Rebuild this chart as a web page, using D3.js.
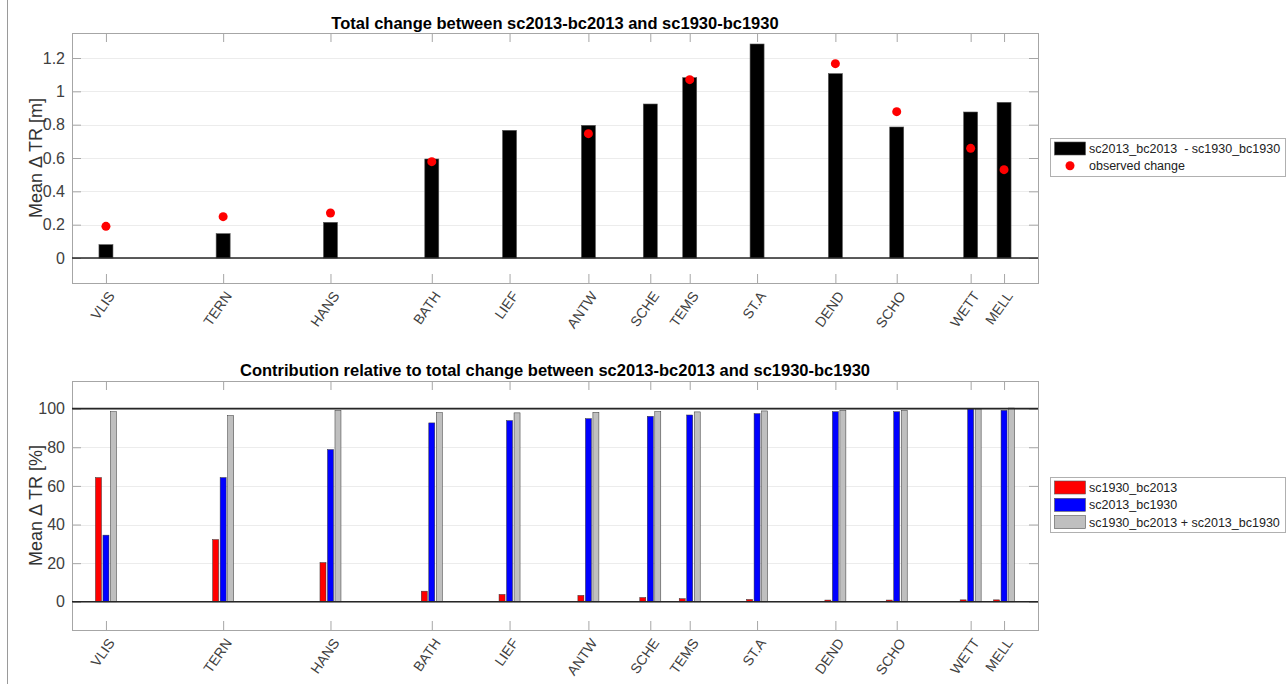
<!DOCTYPE html>
<html>
<head>
<meta charset="utf-8">
<title>Total change</title>
<style>
  body { margin: 0; background: #fff; }
  text { font-family: "Liberation Sans", Arial, sans-serif; }
</style>
</head>
<body>
<div id="plot"></div>
<script src="https://cdn.jsdelivr.net/npm/d3@7"></script>
<script>
let stations = ['VLIS', 'TERN', 'HANS', 'BATH', 'LIEF', 'ANTW', 'SCHE', 'TEMS', 'ST.A', 'DEND', 'SCHO', 'WETT', 'MELL'];
let stationKm = [0, 21.4, 41.0, 59.5, 73.7, 88.1, 99.4, 106.6, 118.9, 133.2, 144.4, 157.9, 164.0];

// top panel
let totalChange = [0.08, 0.146, 0.214, 0.594, 0.766, 0.796, 0.924, 1.082, 1.284, 1.106, 0.786, 0.876, 0.934];
let observed = [0.19, 0.248, 0.27, 0.578, null, 0.746, null, 1.07, null, 1.166, 0.878, 0.658, 0.53];
let topTicks = [0, 0.2, 0.4, 0.6, 0.8, 1, 1.2];

// bottom panel (%)
let sc1930bc2013 = [64.3, 32.2, 20.3, 5.5, 3.8, 3.3, 2.2, 1.6, 1.2, 0.9, 0.9, 1.0, 1.0];
let sc2013bc1930 = [34.5, 64.3, 78.8, 92.6, 93.8, 94.8, 96.0, 96.7, 97.4, 98.4, 98.4, 99.8, 99.1];
let sumBoth = [98.4, 96.4, 99.1, 97.9, 97.8, 98.1, 98.4, 98.3, 98.8, 99.1, 99.1, 99.8, 100.3];
let bottomTicks = [0, 20, 40, 60, 80, 100];

let svgWidth = 1288, svgHeight = 684;
let left = 72, right = 1038;

let svg = d3.select('#plot').append('svg')
  .attr('width', svgWidth).attr('height', svgHeight);

// thin frame line at the far left of the figure
svg.append('line').attr('x1', 7.5).attr('x2', 7.5).attr('y1', 0).attr('y2', svgHeight)
  .attr('stroke', '#9a9a9a').attr('stroke-width', 1);

let x = d3.scaleLinear().domain([-6.2, 170.2]).range([left, right]);

function panel(top, bottom, domain, ticks, tickFmt, title, ylabel, titleY) {
  let y = d3.scaleLinear().domain(domain).range([bottom, top]);
  let g = svg.append('g');

  // grid
  g.selectAll('.grid').data(ticks).enter().append('line')
    .attr('x1', left).attr('x2', right)
    .attr('y1', d => Math.round(y(d)) + 0.5).attr('y2', d => Math.round(y(d)) + 0.5)
    .attr('stroke', '#ececec').attr('stroke-width', 1);

  // y axes (left labelled, right ticks only)
  let yl = g.append('g').attr('transform', 'translate(' + left + ',0)')
    .call(d3.axisLeft(y).tickValues(ticks).tickFormat(tickFmt).tickSizeInner(-9).tickSizeOuter(0).tickPadding(7));
  let yr = g.append('g').attr('transform', 'translate(' + right + ',0)')
    .call(d3.axisRight(y).tickValues(ticks).tickFormat('').tickSizeInner(-9).tickSizeOuter(0));
  // x axes (bottom labelled, top ticks only)
  let xb = g.append('g').attr('transform', 'translate(0,' + bottom + ')')
    .call(d3.axisBottom(x).tickValues(stationKm).tickFormat((d, i) => stations[i]).tickSizeInner(-9).tickSizeOuter(0));
  let xt = g.append('g').attr('transform', 'translate(0,' + top + ')')
    .call(d3.axisTop(x).tickValues(stationKm).tickFormat('').tickSizeInner(-9).tickSizeOuter(0));

  [yl, yr, xb, xt].forEach(a => {
    a.select('.domain').remove();
    a.selectAll('.tick line').attr('stroke', '#a6a6a6');
    a.selectAll('text').attr('fill', '#404040').style('font-size', '16px');
  });
  xb.selectAll('text')
    .style('font-size', '14px')
    .attr('text-anchor', 'end')
    .attr('transform', 'translate(5,10) rotate(-55)')
    .attr('dy', '0.35em').attr('y', 0).attr('x', 0);

  // box
  g.append('rect').attr('x', left + 0.5).attr('y', top + 0.5)
    .attr('width', right - left).attr('height', bottom - top)
    .attr('fill', 'none').attr('stroke', '#a6a6a6');

  g.append('text').attr('x', (left + right) / 2).attr('y', titleY)
    .attr('text-anchor', 'middle').style('font-size', '16.5px').style('font-weight', 'bold')
    .attr('fill', '#000').text(title);

  g.append('text')
    .attr('transform', 'translate(42,' + (top + bottom) / 2 + ') rotate(-90)')
    .attr('text-anchor', 'middle').style('font-size', '18px').attr('fill', '#333')
    .text(ylabel);

  return {g: g, y: y};
}

// ---- top panel
let p1 = panel(33, 283, [-0.15, 1.35], topTicks, d => d3.format('~g')(d),
  'Total change between sc2013-bc2013 and sc1930-bc1930', 'Mean \u0394 TR [m]', 29);
let bw = 14;
p1.g.selectAll('.bar').data(totalChange).enter().append('rect')
  .attr('x', (d, i) => x(stationKm[i]) - bw / 2)
  .attr('y', d => p1.y(d))
  .attr('width', bw)
  .attr('height', d => p1.y(0) - p1.y(d))
  .attr('fill', '#000').attr('stroke', '#555').attr('stroke-width', 0.6);
p1.g.append('line').attr('x1', left).attr('x2', right)
  .attr('y1', p1.y(0)).attr('y2', p1.y(0)).attr('stroke', '#262626').attr('stroke-width', 1.6);
p1.g.selectAll('.dot').data(observed.map((v, i) => [stationKm[i], v]).filter(d => d[1] != null))
  .enter().append('circle')
  .attr('cx', d => x(d[0])).attr('cy', d => p1.y(d[1])).attr('r', 4.5).attr('fill', '#ff0000');

// ---- bottom panel
let p2 = panel(381, 630, [-14.6, 114.3], bottomTicks, d => d,
  'Contribution relative to total change between sc2013-bc2013 and sc1930-bc1930', 'Mean \u0394 TR [%]', 376);
let series = [
  {vals: sc1930bc2013, color: '#ff0000', off: -7.5},
  {vals: sc2013bc1930, color: '#0000ff', off: 0},
  {vals: sumBoth, color: '#bfbfbf', off: 7.5}
];
let gw = 6;
series.forEach(s => {
  p2.g.selectAll(null).data(s.vals).enter().append('rect')
    .attr('x', (d, i) => x(stationKm[i]) + s.off - gw / 2)
    .attr('y', d => p2.y(d))
    .attr('width', gw)
    .attr('height', d => p2.y(0) - p2.y(d))
    .attr('fill', s.color).attr('stroke', '#333').attr('stroke-width', 0.5);
});
[0, 100].forEach(v => {
  p2.g.append('line').attr('x1', left).attr('x2', right)
    .attr('y1', p2.y(v)).attr('y2', p2.y(v)).attr('stroke', '#262626').attr('stroke-width', 1.6);
});

// ---- legends
function legend(x0, y0, h, entries) {
  let lg = svg.append('g');
  lg.append('rect').attr('x', x0 + 0.5).attr('y', y0 + 0.5).attr('width', 235).attr('height', h)
    .attr('fill', '#fff').attr('stroke', '#b0b0b0');
  entries.forEach((e, i) => {
    let cy = y0 + 10 + i * 17.3;
    if (e.type === 'rect') {
      lg.append('rect').attr('x', x0 + 4.5).attr('y', cy - 6).attr('width', 31).attr('height', 13)
        .attr('fill', e.color).attr('stroke', '#555').attr('stroke-width', 0.6);
    } else {
      lg.append('circle').attr('cx', x0 + 20).attr('cy', cy + 0.5).attr('r', 4.5).attr('fill', e.color);
    }
    lg.append('text').attr('x', x0 + 39).attr('y', cy + 5).style('font-size', '12.5px')
      .attr('fill', '#222').attr('xml:space', 'preserve').text(e.label);
  });
}
legend(1050, 138, 38, [
  {type: 'rect', color: '#000', label: 'sc2013_bc2013  - sc1930_bc1930'},
  {type: 'dot', color: '#ff0000', label: 'observed change'}
]);
legend(1050, 477, 55, [
  {type: 'rect', color: '#ff0000', label: 'sc1930_bc2013'},
  {type: 'rect', color: '#0000ff', label: 'sc2013_bc1930'},
  {type: 'rect', color: '#bfbfbf', label: 'sc1930_bc2013 + sc2013_bc1930'}
]);
</script>
</body>
</html>
